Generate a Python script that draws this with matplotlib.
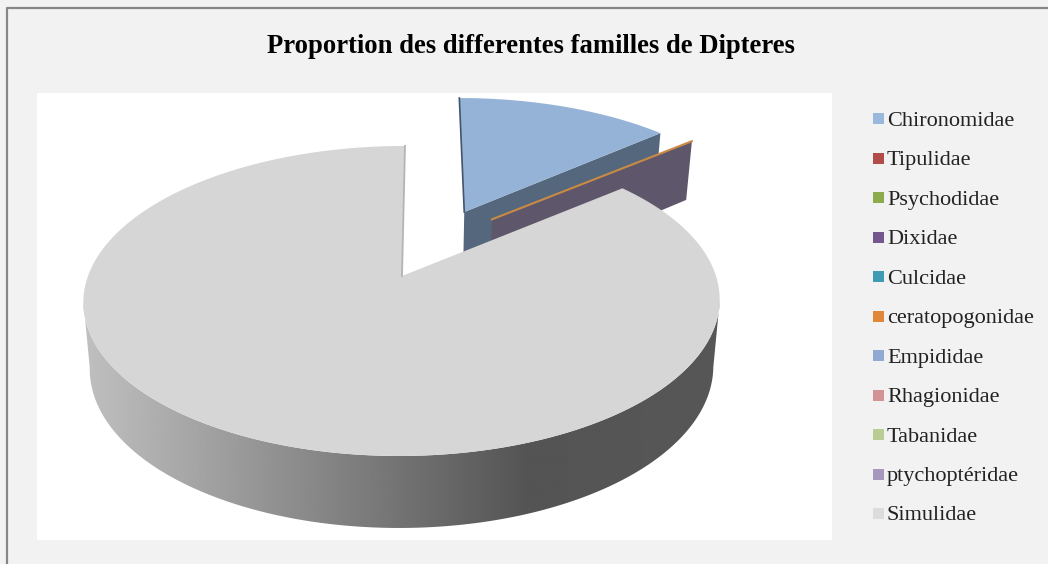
import numpy as np
from matplotlib import pyplot as plt
from matplotlib.patches import Polygon, Rectangle

families = ["Chironomidae", "Tipulidae", "Psychodidae", "Dixidae", "Culcidae", "ceratopogonidae",
            "Empididae", "Rhagionidae", "Tabanidae", "ptychoptéridae", "Simulidae"]
values = [13.5, 0.0, 0.0, 0.38, 0.0, 0.05, 0.0, 0.0, 0.0, 0.0, 86.07]
legend_colors = ["#9ab7dc", "#b24c4a", "#8cab4d", "#74578f", "#3f9ab3", "#e0873a",
                 "#92a9d3", "#d39293", "#b9cc93", "#a797bd", "#dcdcdc"]
title = "Proportion des differentes familles de Dipteres"

# disk projection, pixels
cx, cy = 402, 276
a, b, k = 314, 151, 0.161
lean = 3


def project(u, v, low=False):
	w = 1 + k * v
	x = cx + a * u / w * (0.98 if low else 1) + lean * v
	y = cy - b * v / w
	if low:
		y += 65.5 - 6.5 * v
	return x, y


def rim(start, stop, dx=0.0, dy=0.0, low=False):
	# angles in degrees, clockwise from 12 o'clock
	t = np.radians(np.linspace(start, stop, 200))
	return np.column_stack(project(dx + np.sin(t), dy + np.cos(t), low))


def offset(angle, dist=0.5):
	t = np.radians(angle)
	return dist * np.sin(t), dist * np.cos(t)


fig = plt.figure(figsize=(10.48, 5.64), dpi=100, facecolor="#f2f2f2")
ax = fig.add_axes([0, 0, 1, 1])
ax.set_xlim(0, 1048)
ax.set_ylim(564, 0)
ax.axis("off")

ax.add_patch(Rectangle((37, 93), 795, 447, fc="white", ec="none"))
ax.plot([7, 7, 1048], [564, 8, 8], color="#868686", lw=1.6)

edges = np.cumsum([0] + values) / sum(values) * 360

# Chironomidae, pulled out
start, stop = edges[0], edges[1]
dx, dy = offset(24.6)
tip = project(dx, dy)
tip_low = project(dx, dy, True)
corner = rim(stop, stop, dx, dy)[0]
corner_low = rim(stop, stop, dx, dy, True)[0]
ax.add_patch(Polygon([tip, corner, corner_low, tip_low], fc="#55677c", ec="none", zorder=2))
ax.add_patch(Polygon(np.vstack([[tip], rim(start, stop, dx, dy)]), fc="#95b3d7", ec="none", zorder=3))
top_corner = rim(start, start, dx, dy)[0]
ax.plot([tip[0], top_corner[0]], [tip[1], top_corner[1]], color="#44546a", lw=1.2, zorder=3)

# the thin slices, only their wall and top show
stop = edges[4]
dx, dy = offset(37)
tip = project(dx, dy)
tip_low = project(dx, dy, True)
corner = rim(stop, stop, dx, dy)[0]
corner_low = rim(stop, stop, dx, dy, True)[0]
ax.add_patch(Polygon([tip, corner, corner_low, tip_low], fc="#5e566a", ec="none", zorder=4))
ax.plot([tip[0], corner[0]], [tip[1], corner[1]], color="#c98a45", lw=1.5, zorder=5)

# Simulidae side with a left to right gradient
start, stop = edges[10], edges[11]
turn = 90 + np.degrees(np.arcsin(k))
side = np.vstack([rim(turn, 360 - turn), rim(turn, 360 - turn, low=True)[::-1]])
shade = np.interp(np.linspace(83, 720, 300), [85, 528, 720], [0.75, 0.33, 0.34])
img = ax.imshow(shade[None, :], cmap="gray", vmin=0, vmax=1, extent=(83, 720, 540, 300),
                aspect="auto", zorder=6)
ax.set_xlim(0, 1048)
ax.set_ylim(564, 0)
img.set_clip_path(Polygon(side, transform=ax.transData))

centre = project(0, 0)
ax.add_patch(Polygon(np.vstack([[centre], rim(start, stop)]), fc="#d6d6d6", ec="none", zorder=7))
end = rim(stop, stop)[0]
ax.plot([centre[0], end[0]], [centre[1], end[1]], color="#b4b4b4", lw=1.3, zorder=7)

ax.text(531, 53, title, family="Liberation Serif", weight="bold", fontsize=19.2,
        ha="center", va="baseline", color="black")

for i, name in enumerate(families):
	y = 118.5 + i * 39.5
	ax.add_patch(Rectangle((873, y - 5.5), 11, 11, fc=legend_colors[i], ec="none"))
	ax.text(887, y + 7, name, family="Liberation Serif", fontsize=16, ha="left", va="baseline", color="#222222")

fig.savefig("out.png", dpi=100, facecolor=fig.get_facecolor())
